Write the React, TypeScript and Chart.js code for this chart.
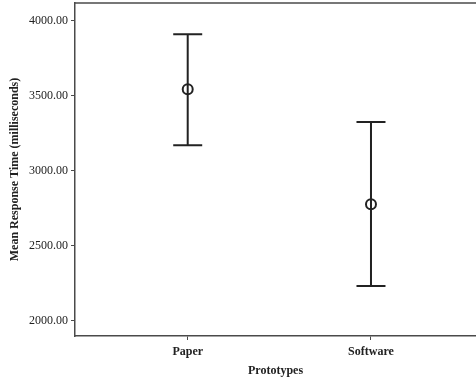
import React, { useEffect, useRef } from "react";
import { Chart, registerables } from "chart.js";

Chart.register(...registerables);

const categories = ["Paper", "Software"];
const categoryPositions = [1, 2];
const means = [3543, 2776];
const upperBounds = [3909, 3325];
const lowerBounds = [3169, 2231];
const yTickValues = [2000, 2500, 3000, 3500, 4000];
const yTitle = "Mean Response Time (milliseconds)";
const xTitle = "Prototypes";

const FONT = "'Liberation Serif', 'Times New Roman', serif";
const INK = "#222222";
const FRAME = "#4a4a4a";

const errorBarPlugin = {
  id: "errorBars",
  beforeDatasetsDraw(chart: any) {
    const { ctx, scales, chartArea } = chart;
    const xs = scales.x;
    const ys = scales.y;
    ctx.save();
    // top frame line
    ctx.strokeStyle = FRAME;
    ctx.lineWidth = 1.5;
    ctx.beginPath();
    ctx.moveTo(chartArea.left, chartArea.top);
    ctx.lineTo(chartArea.right, chartArea.top);
    ctx.stroke();
    // error bars
    ctx.strokeStyle = INK;
    ctx.lineWidth = 2;
    const half = 14.5;
    categoryPositions.forEach((c, i) => {
      const x = xs.getPixelForValue(c);
      const yU = ys.getPixelForValue(upperBounds[i]);
      const yL = ys.getPixelForValue(lowerBounds[i]);
      ctx.beginPath();
      ctx.moveTo(x, yU);
      ctx.lineTo(x, yL);
      ctx.moveTo(x - half, yU);
      ctx.lineTo(x + half, yU);
      ctx.moveTo(x - half, yL);
      ctx.lineTo(x + half, yL);
      ctx.stroke();
    });
    // y title
    ctx.fillStyle = INK;
    ctx.font = `bold 12px ${FONT}`;
    ctx.textAlign = "center";
    ctx.textBaseline = "middle";
    ctx.translate(15, (chartArea.top + chartArea.bottom) / 2);
    ctx.rotate(-Math.PI / 2);
    ctx.fillText(yTitle, 0, 0);
    ctx.restore();
  },
};

export default function App() {
  const ref = useRef<HTMLCanvasElement>(null);
  useEffect(() => {
    if (!ref.current) return;
    const chart = new Chart(ref.current, {
      type: "scatter",
      data: {
        datasets: [
          {
            data: categoryPositions.map((c, i) => ({ x: c, y: means[i] })),
            pointRadius: 5,
            pointBorderWidth: 2,
            pointBorderColor: INK,
            pointBackgroundColor: "rgba(0,0,0,0)",
            pointHoverRadius: 5,
          },
        ],
      },
      options: {
        responsive: false,
        animation: false,
        devicePixelRatio: 1,
        layout: { autoPadding: false, padding: { top: 3, left: 0, right: 0, bottom: 0 } },
        plugins: { legend: { display: false }, tooltip: { enabled: false } },
        scales: {
          x: {
            type: "linear",
            min: 0.385,
            max: 2.573,
            afterBuildTicks: (scale: any) => {
              scale.ticks = categoryPositions.map((v) => ({ value: v }));
            },
            afterFit: (scale: any) => {
              scale.height = 44;
              scale.paddingLeft = 0;
              scale.paddingRight = 0;
            },
            ticks: {
              autoSkip: false,
              maxRotation: 0,
              padding: 5,
              color: INK,
              font: { family: FONT, size: 12, weight: "bold" },
              callback: (v: any) => {
                const idx = categoryPositions.indexOf(Number(v));
                return idx >= 0 ? categories[idx] : "";
              },
            },
            grid: {
              drawOnChartArea: false,
              drawTicks: true,
              tickLength: 4,
              color: FRAME,
              lineWidth: 1,
            },
            border: { display: true, color: FRAME, width: 1.5 },
            title: {
              display: true,
              text: xTitle,
              color: INK,
              font: { family: FONT, size: 12, weight: "bold" },
              padding: { top: 0, bottom: 2 },
            },
          },
          y: {
            type: "linear",
            min: 1898,
            max: 4118,
            afterBuildTicks: (scale: any) => {
              scale.ticks = yTickValues.map((v) => ({ value: v }));
            },
            afterFit: (scale: any) => {
              scale.width = 75;
              scale.paddingTop = 0;
              scale.paddingBottom = 0;
            },
            ticks: {
              padding: 3,
              color: INK,
              font: { family: FONT, size: 12 },
              callback: (v: any) => Number(v).toFixed(2),
            },
            grid: {
              drawOnChartArea: false,
              drawTicks: true,
              tickLength: 4,
              color: FRAME,
              lineWidth: 1,
            },
            border: { display: true, color: FRAME, width: 1.5 },
          },
        },
      },
      plugins: [errorBarPlugin],
    });
    return () => chart.destroy();
  }, []);
  return (
    <div style={{ position: "fixed", left: 0, top: 0, width: 476, height: 380, background: "#fff" }}>
      <canvas ref={ref} width={476} height={380} style={{ display: "block" }} />
    </div>
  );
}
